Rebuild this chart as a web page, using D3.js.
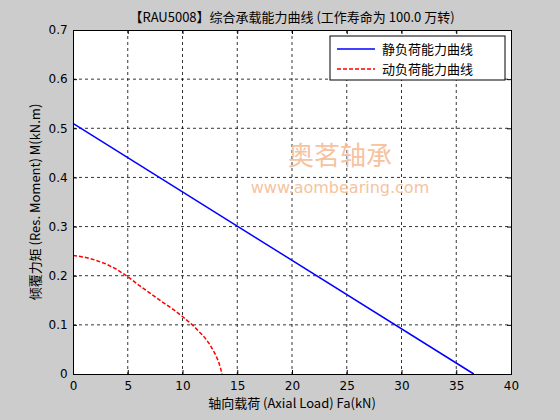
<!DOCTYPE html><html><head><meta charset="utf-8"><script src="https://cdn.jsdelivr.net/npm/d3@7"></script>
<style>body{margin:0;background:#cccccc}text{font-family:"Noto Sans CJK SC","DejaVu Sans",sans-serif}</style></head><body>
<svg id="c" width="560" height="420"></svg>
<script>
const xTicks=[0,5,10,15,20,25,30,35,40];
const yTicks=[0,0.1,0.2,0.3,0.4,0.5,0.6,0.7];
const staticX=[0,36.6];
const staticY=[0.51,0];
const dynX=[0,1,2,3,4,5,6,7,8,9,10,11,12,12.5,13,13.3,13.5,13.6];
const dynY=[0.241,0.238,0.232,0.224,0.213,0.198,0.181,0.165,0.149,0.134,0.117,0.098,0.075,0.06,0.04,0.025,0.01,0];
const svg=d3.select("#c");
const x=d3.scaleLinear().domain([0,40]).range([73,511]);
const y=d3.scaleLinear().domain([0,0.7]).range([374,30]);
svg.append("rect").attr("x",73).attr("y",30).attr("width",438).attr("height",344).attr("fill","#fff");
const g=svg.append("g");
xTicks.slice(1,-1).forEach(t=>g.append("line").attr("x1",x(t)).attr("x2",x(t)).attr("y1",30).attr("y2",374).attr("stroke","#000").attr("stroke-dasharray","3,3").attr("stroke-width",0.8));
yTicks.slice(1,-1).forEach(t=>g.append("line").attr("y1",y(t)).attr("y2",y(t)).attr("x1",73).attr("x2",511).attr("stroke","#000").attr("stroke-dasharray","3,3").attr("stroke-width",0.8));
svg.append("text").attr("x",340).attr("y",165).attr("text-anchor","middle").attr("font-size",26).attr("fill","#f5c3a0").text("奥茗轴承");
svg.append("text").attr("x",340).attr("y",193).attr("text-anchor","middle").attr("font-size",16).attr("fill","#f5c3a0").attr("style","font-family:'DejaVu Sans'").text("www.aombearing.com");
const line=d3.line().x(d=>x(d[0])).y(d=>y(d[1]));
svg.append("path").attr("d",line(d3.zip(staticX,staticY))).attr("stroke","#0000ff").attr("stroke-width",1.5).attr("fill","none");
svg.append("path").attr("d",line(d3.zip(dynX,dynY))).attr("stroke","#ff0000").attr("stroke-width",1.5).attr("stroke-dasharray","4,2").attr("fill","none");
const xa=svg.append("g").attr("transform","translate(0,374)").call(d3.axisBottom(x).tickValues(xTicks).tickSize(-4).tickFormat(d3.format("d")));
const xt=svg.append("g").attr("transform","translate(0,30)").call(d3.axisTop(x).tickValues(xTicks).tickSize(-4).tickFormat(""));
const ya=svg.append("g").attr("transform","translate(73,0)").call(d3.axisLeft(y).tickValues(yTicks).tickSize(-4).tickFormat(d=>d===0?"0":d3.format(".1f")(d)));
const yr=svg.append("g").attr("transform","translate(511,0)").call(d3.axisRight(y).tickValues(yTicks).tickSize(-4).tickFormat(""));
[xa,xt,ya,yr].forEach(a=>{a.selectAll("path,line").attr("stroke","#000");a.selectAll("text").attr("font-size",12).attr("fill","#000").attr("style","font-family:'DejaVu Sans'");});
xa.selectAll("text").attr("dy","1.1em");ya.selectAll("text").attr("dx","-0.2em");
svg.append("text").attr("x",292).attr("y",22).attr("text-anchor","middle").attr("font-size",13).text("【RAU5008】综合承载能力曲线 (工作寿命为 100.0 万转)");
svg.append("text").attr("x",292).attr("y",408).attr("text-anchor","middle").attr("font-size",13).text("轴向载荷 (Axial Load) Fa(kN)");
svg.append("text").attr("transform","translate(40,202) rotate(-90)").attr("text-anchor","middle").attr("font-size",13).text("倾覆力矩 (Res. Moment) M(kN.m)");
const lg=svg.append("g");
lg.append("rect").attr("x",330).attr("y",36).attr("width",175).attr("height",44).attr("fill","#fff").attr("stroke","#000");
[["静负荷能力曲线","#0000ff",null],["动负荷能力曲线","#ff0000","4,2"]].forEach((d,i)=>{
 const yy=49+i*20;
 lg.append("line").attr("x1",337).attr("x2",375).attr("y1",yy).attr("y2",yy).attr("stroke",d[1]).attr("stroke-width",1.5).attr("stroke-dasharray",d[2]);
 lg.append("text").attr("x",382).attr("y",yy+5).attr("font-size",13).text(d[0]);
});
</script></body></html>
